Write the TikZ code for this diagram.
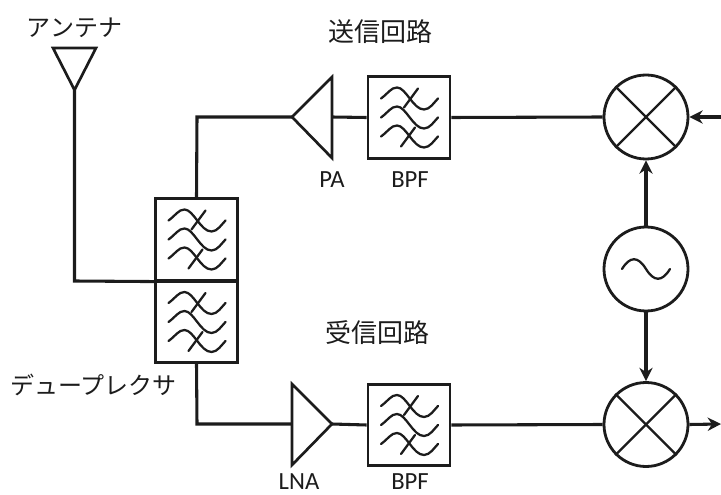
\documentclass[tikz,border=0pt]{standalone}
\usepackage{fontspec}
\setmainfont{Carlito}
\newfontfamily\cjk{Noto Sans CJK JP}
\usetikzlibrary{arrows.meta}
\definecolor{ink}{HTML}{1C1C1C}
\tikzset{
  wire/.style={draw=ink,line width=2.3pt},
  thin wire/.style={draw=ink,line width=2pt},
  arrowed/.style={wire,-{Stealth[length=10pt,width=10pt]}},
  filterbox/.style={draw=ink,line width=2.1pt,rectangle,minimum width=61.5pt,minimum height=61pt,inner sep=0pt,fill=white},
  roundel/.style={draw=ink,line width=2.1pt,circle,minimum size=63pt,inner sep=0pt,fill=white},
  jp/.style={font=\cjk\fontsize{18}{20}\selectfont,text=ink,inner sep=0pt},
  jpbig/.style={font=\cjk\fontsize{19.5}{21}\selectfont,text=ink,inner sep=0pt},
  lat/.style={font=\fontsize{18.5}{20}\selectfont,text=ink,inner sep=0pt},
  glyph/.style={draw=ink,line width=1.7pt,line cap=round},
  filterglyph/.pic={
    \foreach \dy in {-19,0,19}{
      \draw[glyph] (-28,\dy) .. controls (-21,{\dy-5}) and (-18,{\dy-11}) .. (-12,{\dy-11})
        .. controls (-3,{\dy-11}) and (4,{\dy+11}) .. (15,{\dy+11})
        .. controls (21,{\dy+11}) and (25,{\dy+4}) .. (29,\dy);
    }
    \draw[glyph] (9,-29) -- (-5,-10);
    \draw[glyph] (6,10) -- (-8,29);
  }
}
\begin{document}
\begin{tikzpicture}[x=0.75pt,y=-0.75pt]
\useasboundingbox (0,0) rectangle (721,495);
% amplifiers and antenna vertices
\coordinate (anttl) at (53,48);
\coordinate (anttr) at (96,48);
\coordinate (antb) at (74.5,90);
\coordinate (patip) at (292,117);
\coordinate (pat) at (332,77);
\coordinate (pab) at (332,158);
\coordinate (pae) at (332,117);
\coordinate (lnat) at (292,384);
\coordinate (lnab) at (292,465);
\coordinate (lnaw) at (292,424);
\coordinate (lnatip) at (332,424);
\coordinate (txin) at (721,117);
\coordinate (rxout) at (721,424);
\coordinate (antc) at (74.5,281);
\coordinate (txc) at (197,117);
\coordinate (rxc) at (197,424);
% boxes
\node[filterbox] (dupt) at (196.5,239.5) {};
\node[filterbox] (dupb) at (196.5,322) {};
\node[filterbox] (bpft) at (409,117.5) {};
\node[filterbox] (bpfb) at (409,425) {};
\node[roundel] (mixt) at (646,117) {};
\node[roundel] (osc) at (646,269) {};
\node[roundel] (mixb) at (646,424.5) {};
% connectors
\draw[wire] (antb) -- (antc) -- (dupt.south west);
\draw[wire] (dupt.north) -- (txc) -- (patip);
\draw[wire] (pae) -- (bpft.west);
\draw[wire] (bpft.east) -- (mixt.west);
\draw[wire] (dupb.south) -- (rxc) -- (lnaw);
\draw[wire] (lnatip) -- (bpfb.west);
\draw[wire] (bpfb.east) -- (mixb.west);
\draw[arrowed] (txin) -- (mixt.east);
\draw[arrowed] (mixb.east) -- (rxout);
\draw[arrowed] (osc.north) -- (mixt.south);
\draw[arrowed] (osc.south) -- (mixb.north);
% symbols
\draw[thin wire] (anttl) -- (anttr) -- (antb) -- cycle;
\draw[thin wire] (patip) -- (pat) -- (pab) -- cycle;
\draw[thin wire] (lnat) -- (lnab) -- (lnatip) -- cycle;
\pic at (dupt) {filterglyph};
\pic at (dupb) {filterglyph};
\pic at (bpft) {filterglyph};
\pic at (bpfb) {filterglyph};
\foreach \m in {mixt,mixb}{
  \draw[glyph,line cap=butt] (\m.45) -- (\m.225);
  \draw[glyph,line cap=butt] (\m.135) -- (\m.315);
}
\draw[glyph] (622,269) .. controls (630,256) and (638,256) .. (646,269)
  .. controls (654,282) and (662,282) .. (670,269);
% labels
\node[jp] (lant) at (74.5,28) {アンテナ};
\node[jpbig] (ltx) at (380,32) {送信回路};
\node[jpbig] (lrx) at (377,333) {受信回路};
\node[jp] (ldup) at (93.5,385) {デュープレクサ};
\node[lat] (lpa) at (332,180) {PA};
\node[lat] (lbpft) at (410,180) {BPF};
\node[lat] (llna) at (299,482) {LNA};
\node[lat] (lbpfb) at (410,482) {BPF};
\end{tikzpicture}
\end{document}
